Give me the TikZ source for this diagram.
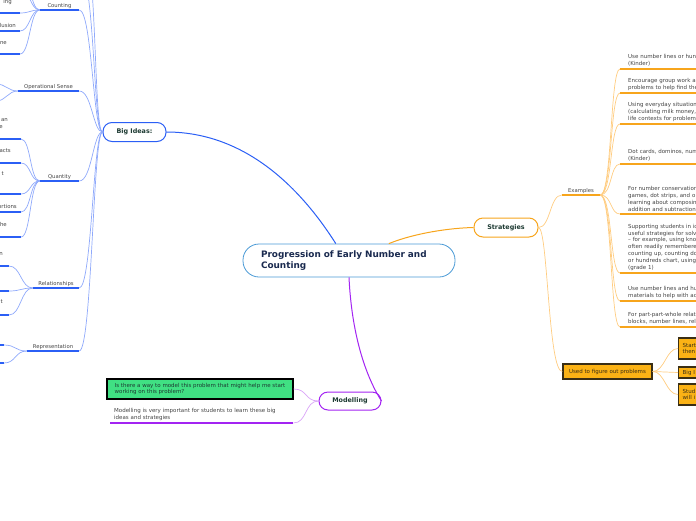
\documentclass[tikz,border=0pt]{standalone}
\usepackage{fontspec}
\setmainfont{DejaVu Sans}
\definecolor{cmain}{HTML}{4A9AD6}
\definecolor{cnavy}{HTML}{1A2A4F}
\definecolor{cgreen}{HTML}{1E3B33}
\definecolor{cblue}{HTML}{2B5FF5}
\definecolor{clblue}{HTML}{8FA9FB}
\definecolor{corange}{HTML}{F7A51C}
\definecolor{clorange}{HTML}{FFCC80}
\definecolor{cpurple}{HTML}{A324F2}
\definecolor{clpurple}{HTML}{D9A3F7}
\definecolor{cgray}{HTML}{444444}
\definecolor{cbox}{HTML}{FBB215}
\definecolor{cdark}{HTML}{3A2E14}
\definecolor{cgbox}{HTML}{40E083}
\begin{document}
\begin{tikzpicture}[x=1pt,y=-1pt,
  mainbox/.style={draw=cmain, line width=0.8pt, rounded corners=16pt, fill=white, minimum width=212pt, minimum height=33pt, text width=176pt, align=left, inner sep=0pt, font=\bfseries\fontsize{8.9}{11}\selectfont, text=cnavy},
  topic/.style={rounded corners=9pt, line width=1pt, fill=white, minimum height=19pt, inner sep=0pt, font=\bfseries\fontsize{6.4}{7}\selectfont, text=cgreen},
  sub/.style={anchor=south, inner xsep=0pt, inner ysep=1.5pt, font=\fontsize{5.3}{6}\selectfont, text=cgray},
  frag/.style={anchor=east, inner sep=0pt, font=\fontsize{5.4}{6}\selectfont, text=cgray},
  leaf/.style={anchor=south west, inner xsep=8pt, inner ysep=2.5pt, text width=95pt, align=left, font=\fontsize{5.5}{6.8}\selectfont, text=cgray},
  obox/.style={draw=cdark, line width=1.4pt, fill=cbox, inner xsep=4pt, inner ysep=0pt, font=\fontsize{5.5}{6.8}\selectfont, text=cdark},
  bu/.style={cblue, line width=2pt},
  bc/.style={clblue, line width=0.7pt},
  ou/.style={corange, line width=1.5pt},
  oc/.style={clorange, line width=0.7pt},
  pc/.style={clpurple, line width=0.7pt}]
\useasboundingbox (0,0) rectangle (696,520);
\clip (0,0) rectangle (696,520);
\node[mainbox] (mc) at (349,260.5) {Progression of Early Number and\\Counting};
\node[topic, draw=cblue, minimum width=63pt] (bi) at (134.5,132) {Big Ideas:};
\node[topic, draw=corange, minimum width=64pt] (str) at (506,227.5) {Strategies};
\node[topic, draw=cpurple, minimum width=62pt, minimum height=18pt] (mod) at (350,401) {Modelling};
\node[sub, minimum width=39pt] (cnt) at (59.5,10) {Counting};
\node[sub, minimum width=61pt] (ops) at (48.5,91) {Operational Sense};
\node[sub, minimum width=39pt] (qty) at (59.5,181) {Quantity};
\node[sub, minimum width=46pt] (rel) at (56,288) {Relationships};
\node[sub, minimum width=52pt] (rep) at (53,351) {Representation};
\node[sub, minimum width=38pt] (ex) at (581,195) {Examples};
\coordinate (bx1) at (79,-30);
\coordinate (bx2) at (79,-70);
\coordinate (c1) at (20,13);
\coordinate (c2) at (20,31);
\coordinate (c3) at (20,54);
\coordinate (c4) at (20,-12);
\coordinate (c5) at (20,-30);
\coordinate (o1) at (-4,84);
\coordinate (o2) at (-4,101);
\coordinate (q1) at (21,139);
\coordinate (q2) at (21,163);
\coordinate (q3) at (21,194);
\coordinate (q4) at (21,212);
\coordinate (q5) at (21,237);
\coordinate (r1) at (9,266);
\coordinate (r2) at (9,291);
\coordinate (r3) at (9,315);
\coordinate (p1) at (4,345);
\coordinate (p2) at (4,363);
\node[frag] (c1t) at (12,2) {ing};
\node[frag] (c2t) at (16,25) {lusion};
\node[frag] (c3t) at (7,43) {ne};
\node[frag] (q1a) at (8,120) {an};
\node[frag] (q1b) at (3,127) {e};
\node[frag] (q2t) at (11,151) {acts};
\node[frag] (q3t) at (4,174) {t};
\node[frag] (q4t) at (17,206) {ortions};
\node[frag] (q5t) at (7,224) {he};
\node[frag] (r1t) at (3,254) {n};
\node[frag] (r3t) at (3,302) {t};
\node[leaf] (e1) at (620,69) {Use number lines or hun\\(Kinder)};
\node[leaf] (e2) at (620,93) {Encourage group work ar\\problems to help find the};
\node[leaf] (e3) at (620,124) {Using everyday situation\\(calculating milk money,\\life contexts for problem};
\node[leaf] (e4) at (620,164) {Dot cards, dominos, num\\(Kinder)};
\node[leaf] (e5) at (620,214) {For number conservation\\games, dot strips, and o\\learning about composin\\addition and subtraction};
\node[leaf] (e6) at (620,273) {Supporting students in id\\useful strategies for solv\\-- for example, using kno\\often readily remembere\\counting up, counting do\\or hundreds chart, using\\(grade 1)};
\node[leaf] (e7) at (620,301) {Use number lines and hu\\materials to help with ad};
\node[leaf] (e8) at (620,327) {For part-part-whole relat\\blocks, number lines, rel};
\node[obox, minimum width=89pt, minimum height=15pt] (use) at (607.5,371.5) {Used to figure out problems};
\node[obox, anchor=west, minimum height=21pt, text width=30pt, align=left] (u1) at (678,348.5) {Start\\then};
\node[obox, anchor=west, minimum height=11pt, text width=30pt, align=left] (u2) at (678,372.5) {Big I};
\node[obox, anchor=west, minimum height=21pt, text width=30pt, align=left] (u3) at (678,394.5) {Stud\\will i};
\node[obox, draw=black, fill=cgbox, minimum width=186pt, minimum height=20pt, align=left, text=cgreen] (q) at (200,389) {Is there a way to model this problem that might help me start\\working on this problem?};
\node[leaf, text width=175pt, inner xsep=4pt] (mn) at (110,423) {Modelling is very important for students to learn these big\\ideas and strategies};
\draw[cblue, line width=1pt] (mc.128) .. controls (305,195) and (250,132) .. (bi.east);
\draw[corange, line width=1pt] (mc.23) .. controls (415,233) and (450,228) .. (str.west);
\draw[cpurple, line width=1pt] (mc.south) .. controls (352,340) and (368,380) .. (mod.east);
\draw[bc] (bi.west) .. controls (93,132) and (92,10) .. (cnt.south east);
\draw[bc] (bi.west) .. controls (93,132) and (92,91) .. (ops.south east);
\draw[bc] (bi.west) .. controls (93,132) and (92,181) .. (qty.south east);
\draw[bc] (bi.west) .. controls (93,132) and (92,288) .. (rel.south east);
\draw[bc] (bi.west) .. controls (93,132) and (92,351) .. (rep.south east);
\draw[bc] (bi.west) .. controls (93,132) and (95,-30) .. (bx1);
\draw[bc] (bi.west) .. controls (93,132) and (98,-70) .. (bx2);
\draw[bu] (cnt.south west) -- (cnt.south east);
\draw[bu] (ops.south west) -- (ops.south east);
\draw[bu] (qty.south west) -- (qty.south east);
\draw[bu] (rel.south west) -- (rel.south east);
\draw[bu] (rep.south west) -- (rep.south east);
\draw[bc] (cnt.south west) .. controls +(-10,0) and +(10,0) .. (c1);
\draw[bc] (cnt.south west) .. controls +(-10,0) and +(10,0) .. (c2);
\draw[bc] (cnt.south west) .. controls +(-10,0) and +(10,0) .. (c3);
\draw[bc] (cnt.south west) .. controls +(-10,0) and +(10,0) .. (c4);
\draw[bc] (cnt.south west) .. controls +(-10,0) and +(10,0) .. (c5);
\draw[bc] (ops.south west) .. controls +(-10,0) and +(10,0) .. (o1);
\draw[bc] (ops.south west) .. controls +(-10,0) and +(10,0) .. (o2);
\draw[bc] (qty.south west) .. controls +(-10,0) and +(10,0) .. (q1);
\draw[bc] (qty.south west) .. controls +(-10,0) and +(10,0) .. (q2);
\draw[bc] (qty.south west) .. controls +(-10,0) and +(10,0) .. (q3);
\draw[bc] (qty.south west) .. controls +(-10,0) and +(10,0) .. (q4);
\draw[bc] (qty.south west) .. controls +(-10,0) and +(10,0) .. (q5);
\draw[bc] (rel.south west) .. controls +(-12,0) and +(12,0) .. (r1);
\draw[bc] (rel.south west) .. controls +(-12,0) and +(12,0) .. (r2);
\draw[bc] (rel.south west) .. controls +(-12,0) and +(12,0) .. (r3);
\draw[bc] (rep.south west) .. controls +(-12,0) and +(12,0) .. (p1);
\draw[bc] (rep.south west) .. controls +(-12,0) and +(12,0) .. (p2);
\draw[bu] (c1) -- ++(-40,0);
\draw[bu] (c2) -- ++(-40,0);
\draw[bu] (c3) -- ++(-40,0);
\draw[bu] (q1) -- ++(-40,0);
\draw[bu] (q2) -- ++(-40,0);
\draw[bu] (q3) -- ++(-40,0);
\draw[bu] (q4) -- ++(-40,0);
\draw[bu] (q5) -- ++(-40,0);
\draw[bu] (r1) -- ++(-40,0);
\draw[bu] (r2) -- ++(-40,0);
\draw[bu] (r3) -- ++(-40,0);
\draw[bu] (p1) -- ++(-40,0);
\draw[bu] (p2) -- ++(-40,0);
\draw[oc] (str.east) .. controls +(12,0) and +(-12,0) .. (ex.south west);
\draw[oc] (str.east) .. controls (548,228) and (548,371.5) .. (use.west);
\draw[ou] (ex.south west) -- (ex.south east);
\draw[oc] (ex.south east) .. controls +(12,0) and +(-10,0) .. (e1.south west);
\draw[oc] (ex.south east) .. controls +(12,0) and +(-10,0) .. (e2.south west);
\draw[oc] (ex.south east) .. controls +(12,0) and +(-10,0) .. (e3.south west);
\draw[oc] (ex.south east) .. controls +(12,0) and +(-10,0) .. (e4.south west);
\draw[oc] (ex.south east) .. controls +(12,0) and +(-10,0) .. (e5.south west);
\draw[oc] (ex.south east) .. controls +(12,0) and +(-10,0) .. (e6.south west);
\draw[oc] (ex.south east) .. controls +(12,0) and +(-10,0) .. (e7.south west);
\draw[oc] (ex.south east) .. controls +(12,0) and +(-10,0) .. (e8.south west);
\draw[ou] (e1.south west) -- (e1.south east);
\draw[ou] (e2.south west) -- (e2.south east);
\draw[ou] (e3.south west) -- (e3.south east);
\draw[ou] (e4.south west) -- (e4.south east);
\draw[ou] (e5.south west) -- (e5.south east);
\draw[ou] (e6.south west) -- (e6.south east);
\draw[ou] (e7.south west) -- (e7.south east);
\draw[ou] (e8.south west) -- (e8.south east);
\draw[oc] (use.east) .. controls +(12,0) and +(-12,0) .. (u1.west);
\draw[oc] (use.east) .. controls +(12,0) and +(-12,0) .. (u2.west);
\draw[oc] (use.east) .. controls +(12,0) and +(-12,0) .. (u3.west);
\draw[pc] (mod.west) .. controls +(-14,0) and +(14,0) .. (q.east);
\draw[pc] (mod.west) .. controls +(-14,0) and +(14,0) .. (mn.south east);
\draw[cpurple, line width=1.5pt] (mn.south west) -- (mn.south east);
\end{tikzpicture}
\end{document}
